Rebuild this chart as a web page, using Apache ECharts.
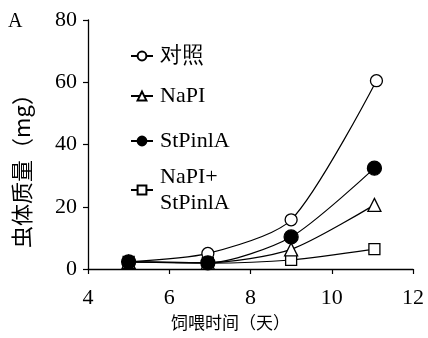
<!DOCTYPE html>
<html><head><meta charset="utf-8">
<script src="https://cdn.jsdelivr.net/npm/echarts@6/dist/echarts.min.js"></script>
<style>html,body{margin:0;padding:0;background:#fff}#c{width:428px;height:338px}</style>
</head><body><div id="c"></div>
<script>
// Data
var days = [5, 6.95, 9, 11.05];
var controlDays = [5, 6.95, 9, 11.1];
var seriesNames = ['对照', 'NaPI', 'StPinlA', 'NaPI+StPinlA'];
var controlVals = [2.3, 5.0, 15.8, 60.5];
var napiVals = [2.3, 2.0, 6.3, 20.6];
var stpinlaVals = [2.3, 2.0, 10.3, 32.4];
var comboVals = [2.3, 1.9, 2.9, 6.4];
var xTicks = [4, 6, 8, 10, 12];
var yTicks = [0, 20, 40, 60, 80];

function pairs(xs, ys){ return xs.map(function(x,i){ return [x, ys[i]]; }); }

var serif = "Liberation Serif";
var cjk = "Noto Sans CJK SC";

function mkSeries(name, data, symbol, size, fill, z){
  return {
    name: name, type: 'line', data: data, smooth: 0.25,
    symbol: symbol, symbolSize: size, z: z,
    lineStyle: {color: '#000', width: 1.2},
    itemStyle: {color: fill, borderColor: '#000', borderWidth: 1.3, opacity: 1},
    emphasis: {disabled: true}
  };
}

function mkLegend(name, top, fmt){
  return {
    data: [name], left: 130, top: top, orient: 'vertical', padding: 0,
    itemWidth: 22, itemHeight: 11, selectedMode: false, itemGap: 0,
    formatter: fmt || '{name}',
    textStyle: {fontFamily: serif, fontSize: 22, color: '#000', lineHeight: 26, padding: [0, 0, 0, 2]}
  };
}

var chart = echarts.init(document.getElementById('c'), null, {renderer: 'canvas'});
chart.setOption({
  animation: false,
  backgroundColor: '#fff',
  grid: {left: 88, right: 15, top: 20, bottom: 69},
  xAxis: {
    type: 'value', min: xTicks[0], max: xTicks[xTicks.length-1], interval: 2,
    axisLine: {onZero: false, lineStyle: {color: '#000', width: 1.3}},
    axisTick: {show: true, length: 5, lineStyle: {color: '#000', width: 1.2}},
    axisLabel: {margin: 18, fontFamily: serif, fontSize: 22, color: '#000'},
    splitLine: {show: false},
    name: '饲喂时间（天）', nameLocation: 'middle', nameGap: 40,
    nameTextStyle: {fontFamily: cjk, fontSize: 17, color: '#000', padding: [0, 40, 0, 0]}
  },
  yAxis: {
    type: 'value', min: yTicks[0], max: yTicks[yTicks.length-1], interval: 20,
    axisLine: {show: true, lineStyle: {color: '#000', width: 1.3}},
    axisTick: {show: true, length: 5, lineStyle: {color: '#000', width: 1.2}},
    axisLabel: {margin: 11, fontFamily: serif, fontSize: 22, color: '#000'},
    splitLine: {show: false},
    name: '虫体质量（mg）', nameLocation: 'middle', nameGap: 55,
    nameTextStyle: {fontFamily: cjk, fontSize: 22, color: '#000', padding: [0, 42, 0, 0]}
  },
  legend: [
    mkLegend(seriesNames[0], 43),
    mkLegend(seriesNames[1], 83),
    mkLegend(seriesNames[2], 128),
    mkLegend(seriesNames[3], 164, function(){ return 'NaPI+\nStPinlA'; })
  ],
  graphic: [{type: 'text', left: 8, top: 12, style: {text: 'A', font: "20px 'Liberation Serif'", fill: '#000'}}],
  series: [
    mkSeries(seriesNames[0], pairs(controlDays, controlVals), 'circle', 12, '#fff', 3),
    mkSeries(seriesNames[1], pairs(days, napiVals), 'triangle', 13, '#fff', 2),
    mkSeries(seriesNames[2], pairs(days, stpinlaVals), 'circle', 14, '#000', 4),
    mkSeries(seriesNames[3], pairs(days, comboVals), 'rect', 11, '#fff', 1)
  ]
});
</script></body></html>
